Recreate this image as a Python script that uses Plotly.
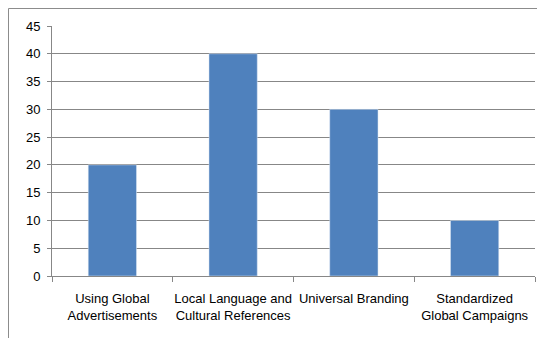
import plotly.graph_objects as go

categories = ["Using Global<br>Advertisements", "Local Language and<br>Cultural References",
              "Universal Branding", "Standardized<br>Global Campaigns"]
values = [20, 40, 30, 10]
y_ticks = [0, 5, 10, 15, 20, 25, 30, 35, 40, 45]

# page is offset by the default 8px body margin
W, H = 545, 338
L, T = 44, 18
pw, ph = 483, 250
R, B = W - L - pw, H - T - ph

def px_x(x):
    return (x - L) / pw

def px_y(y):
    return (T + ph - y) / ph

fig = go.Figure(go.Bar(x=categories, y=values, marker_color="#4F81BD", width=0.4))

fig.update_layout(
    width=W, height=H,
    margin=dict(l=L, r=R, t=T, b=B, autoexpand=False),
    paper_bgcolor="white", plot_bgcolor="white",
    font=dict(family="Liberation Sans, Arial, sans-serif", size=12, color="#000000"),
    showlegend=False,
    shapes=[dict(type="rect", xref="paper", yref="paper",
                 x0=px_x(0.5), x1=px_x(700), y0=px_y(500), y1=px_y(0.5),
                 line=dict(color="#8C8C8C", width=1), fillcolor="rgba(0,0,0,0)", layer="below")],
)
fig.update_xaxes(
    type="category", showgrid=False, showline=True, linecolor="#878787", linewidth=1,
    ticks="outside", ticklen=5, tickcolor="#878787", tickson="boundaries",
    tickfont=dict(size=13), tickangle=0, automargin=False, range=[-0.5, 3.5],
    ticklabelstandoff=10,
)
fig.update_yaxes(
    range=[0, 45], tickvals=y_ticks, showgrid=True, gridcolor="#878787", gridwidth=1,
    showline=True, linecolor="#878787", linewidth=1, automargin=False,
    ticks="outside", ticklen=4, tickcolor="#878787", tickfont=dict(size=13),
    zeroline=False, ticklabelstandoff=4,
)

fig.write_html("out.html")
